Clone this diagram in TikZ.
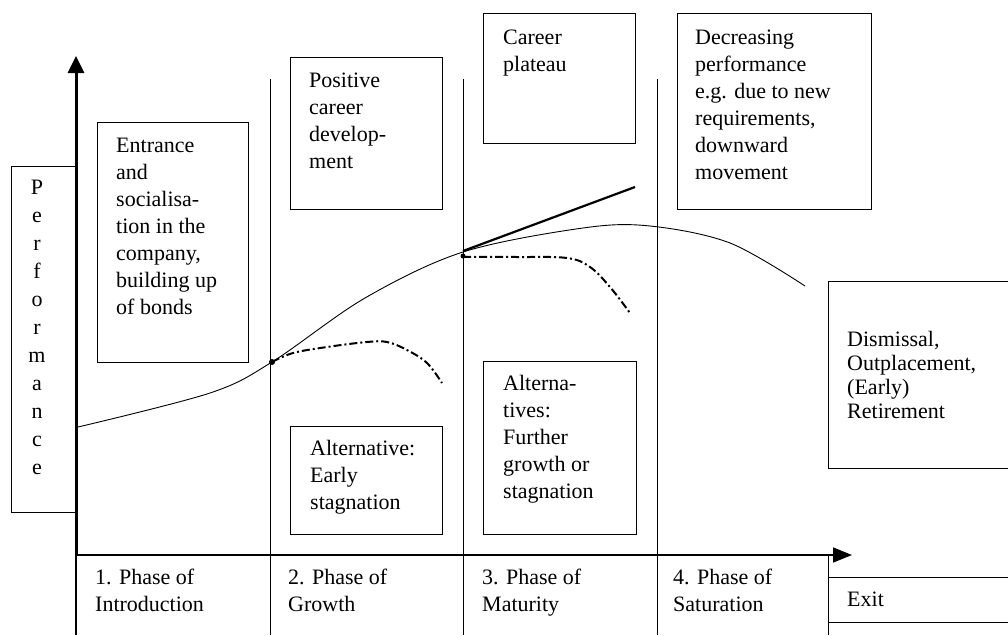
\documentclass[tikz,border=0pt]{standalone}
\usepackage{fontspec}
\setmainfont{Liberation Serif}
\usetikzlibrary{arrows.meta}
\begin{document}
\begin{tikzpicture}[x=1pt,y=-1pt,
  box/.style={draw, line width=1pt, inner sep=0pt, anchor=north west},
  txt/.style={anchor=north west, inner sep=0pt, align=left, font=\fontsize{22}{27}\selectfont},
  phaseline/.style={line width=1pt},
  maincurve/.style={line width=0.9pt},
  altcurve/.style={line width=2pt, dash pattern=on 8pt off 3pt on 2pt off 3pt},
]
\useasboundingbox (0,0) rectangle (1008,635);

% coordinates
\coordinate (origin) at (76,555);
\coordinate (ytip) at (76,56);
\coordinate (ybot) at (76,635);
\coordinate (xtip) at (852,555);
\coordinate (p1t) at (270,79); \coordinate (p1b) at (270,635);
\coordinate (p2t) at (463,79); \coordinate (p2b) at (463,635);
\coordinate (p3t) at (657,79); \coordinate (p3b) at (657,635);
\coordinate (ext) at (828,555); \coordinate (exb) at (828,635);
\coordinate (exl1) at (828,577); \coordinate (exr1) at (1008,577);
\coordinate (exl2) at (828,622); \coordinate (exr2) at (1008,622);
\coordinate (dtr) at (1008,281); \coordinate (dbl) at (828,468); \coordinate (dbr) at (1008,468);
\coordinate (j1) at (272,362);
\coordinate (j2) at (463,251);
\coordinate (growthend) at (635,187);

% boxes
\node[box, minimum width=65pt, minimum height=346pt] (perfbox) at (11,166) {};
\node[box, minimum width=151pt, minimum height=240pt] (entrbox) at (97,122) {};
\node[box, minimum width=152pt, minimum height=152pt] (posbox) at (290,57) {};
\node[box, minimum width=152pt, minimum height=130pt] (platbox) at (483,13) {};
\node[box, minimum width=194pt, minimum height=196pt] (decrbox) at (677,13) {};
\node[box, minimum width=152pt, minimum height=108pt] (earlybox) at (290,426) {};
\node[box, minimum width=153pt, minimum height=173pt] (altvbox) at (483,361) {};
\draw[line width=1pt] (dtr) -| (dbl) -- (dbr);

% texts
\node[anchor=north, inner sep=0pt, align=center, font=\fontsize{22}{28}\selectfont] (perft) at (37,180) {P\\e\\r\\f\\o\\r\\m\\a\\n\\c\\e};
\node[txt] (entrt) at (116,138) {Entrance\\and\\socialisa-\\tion in the\\company,\\building up\\of bonds};
\node[txt] (post) at (309,73) {Positive\\career\\develop-\\ment};
\node[txt] (platt) at (503,30) {Career\\plateau};
\node[txt] (decrt) at (695,30) {Decreasing\\performance\\e.g. due to new\\requirements,\\downward\\movement};
\node[txt] (earlyt) at (310,440) {Alternative:\\Early\\stagnation};
\node[txt] (altvt) at (503,375) {Alterna-\\tives:\\Further\\growth or\\stagnation};
\node[txt, font=\fontsize{22}{24}\selectfont] (dismt) at (847,331) {Dismissal,\\Outplacement,\\(Early)\\Retirement};
\node[txt] (ph1) at (95,569) {1. Phase of\\Introduction};
\node[txt] (ph2) at (288,569) {2. Phase of\\Growth};
\node[txt] (ph3) at (482,569) {3. Phase of\\Maturity};
\node[txt] (ph4) at (673,569) {4. Phase of\\Saturation};
\node[txt] (exitt) at (847,592) {Exit};

% phase lines
\draw[phaseline] (p1t) -- (p1b);
\draw[phaseline] (p2t) -- (p2b);
\draw[phaseline] (p3t) -- (p3b);
\draw[phaseline] (ext) -- (exb);
\draw[phaseline] (exl1) -- (exr1);
\draw[phaseline] (exl2) -- (exr2);

% axes
\draw[line width=1.2pt] (origin) -- (ybot);
\draw[line width=3pt, -{Triangle[length=17pt,width=16pt]}] (origin) -- (ytip);
\draw[line width=1.6pt, -{Triangle[length=19pt,width=15pt]}] (origin) -- (xtip);

% curves
\draw[maincurve] plot[smooth, tension=0.55] coordinates {(78,427) (210,393) (272,362) (365,298) (463,252) (583,228) (650,226) (730,243) (805,286)};
\draw[altcurve] plot[smooth, tension=0.6] coordinates {(272,362) (293,353) (327,347) (367,342) (387,342) (407,350) (427,363) (442,383)};
\draw[altcurve] plot[smooth, tension=0.6] coordinates {(463,257) (517,257) (567,258) (590,267) (610,287) (630,313)};
\draw[line width=2.2pt] (j2) -- (growthend);
\fill (j1) circle (3pt);
\fill (463,256) circle (2.5pt);
\end{tikzpicture}
\end{document}
